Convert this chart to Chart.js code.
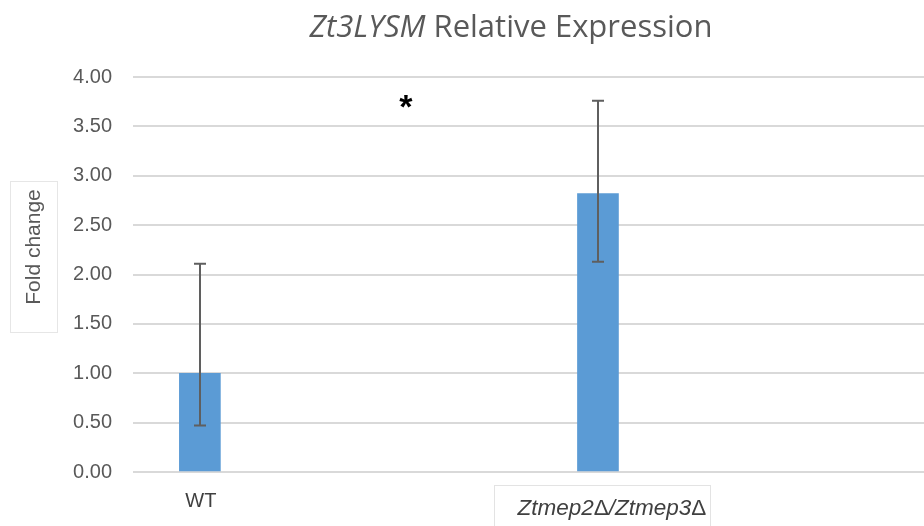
<!DOCTYPE html>
<html>
<head>
<meta charset="utf-8">
<script src="https://cdn.jsdelivr.net/npm/chart.js@4.4.1/dist/chart.umd.min.js"></script>
<style>
  html, body { margin: 0; padding: 0; background: #ffffff; }
  #wrap { width: 924px; height: 526px; position: relative; }
</style>
</head>
<body>
<div id="wrap"><canvas id="c" width="924" height="526"></canvas></div>
<script>
// Strains and their mean fold change
const categories = ['WT', 'Ztmep2\u0394/Ztmep3\u0394'];
const foldChange = [1.00, 2.82];
// Error bar extents (above / below the mean)
const errUpper = [1.11, 0.94];
const errLower = [0.53, 0.69];
// Significance marker
const sigMark = '*';
const sigPosition = { x: 0.515, y: 3.74 };

const chartTitle = ['Zt3LYSM', ' Relative Expression'];
const yAxisTitle = 'Fold change';

const TEXT = '#595959';

// Draw a label where gene names are italic and the deletion sign stays upright
function drawMixedLabel(ctx, text, cx, cy, size) {
  const italic = 'italic ' + size + 'px "Liberation Sans", Arial, sans-serif';
  const upright = size + 'px "Liberation Sans", Arial, sans-serif';
  const parts = text.split(/(\u0394)/).filter(p => p.length);
  const widths = parts.map(p => {
    ctx.font = p === '\u0394' ? upright : italic;
    return ctx.measureText(p).width;
  });
  let px = cx - widths.reduce((a, b) => a + b, 0) / 2;
  ctx.textAlign = 'left';
  parts.forEach((p, i) => {
    ctx.font = p === '\u0394' ? upright : italic;
    ctx.fillText(p, px, cy);
    px += widths[i];
  });
  ctx.textAlign = 'center';
}

const decorations = {
  id: 'decorations',
  afterDatasetsDraw(chart) {
    const { ctx, scales: { x, y } } = chart;
    ctx.save();
    // error bars
    ctx.strokeStyle = '#5f5f5f';
    ctx.lineWidth = 2;
    foldChange.forEach((v, i) => {
      const px = Math.round(x.getPixelForValue(i));
      const top = y.getPixelForValue(v + errUpper[i]);
      const bot = y.getPixelForValue(v - errLower[i]);
      ctx.beginPath();
      ctx.moveTo(px, top); ctx.lineTo(px, bot);
      ctx.moveTo(px - 6, top); ctx.lineTo(px + 6, top);
      ctx.moveTo(px - 6, bot); ctx.lineTo(px + 6, bot);
      ctx.stroke();
    });
    // significance asterisk
    ctx.fillStyle = '#000000';
    ctx.font = 'bold 34px "Liberation Sans", Arial, sans-serif';
    ctx.textAlign = 'center';
    ctx.textBaseline = 'middle';
    ctx.fillText(sigMark, x.getPixelForValue(sigPosition.x) + 1, y.getPixelForValue(sigPosition.y) + 6);

    // category labels
    ctx.fillStyle = '#404040';
    ctx.font = '20px "Liberation Sans", Arial, sans-serif';
    ctx.fillText(categories[0], x.getPixelForValue(0) + 1, 501);
    const mx = x.getPixelForValue(1);
    ctx.strokeStyle = '#e3e3e3';
    ctx.lineWidth = 1;
    ctx.strokeRect(Math.round(mx) - 103.5, 485.5, 216, 50);
    drawMixedLabel(ctx, categories[1], mx + 14, 509, 22.5);

    // y axis title in its box
    ctx.strokeStyle = '#e6e6e6';
    ctx.strokeRect(10.5, 181.5, 47, 151);
    ctx.translate(34, 247);
    ctx.rotate(-Math.PI / 2);
    ctx.fillStyle = TEXT;
    ctx.font = '21px "Liberation Sans", Arial, sans-serif';
    ctx.fillText(yAxisTitle, 0, 0);
    ctx.setTransform(1, 0, 0, 1, 0, 0);

    // chart title: italic gene name followed by regular text
    ctx.fillStyle = TEXT;
    ctx.textBaseline = 'alphabetic';
    ctx.textAlign = 'left';
    const fItalic = 'italic 31px "Open Sans", sans-serif';
    const fRegular = '31px "Open Sans", sans-serif';
    ctx.font = fItalic;
    const w1 = ctx.measureText(chartTitle[0]).width;
    ctx.font = fRegular;
    const w2 = ctx.measureText(chartTitle[1]).width;
    let tx = 511 - (w1 + w2) / 2;
    ctx.font = fItalic;
    ctx.fillText(chartTitle[0], tx, 37);
    ctx.font = fRegular;
    ctx.fillText(chartTitle[1], tx + w1, 37);
    ctx.restore();
  }
};

new Chart(document.getElementById('c'), {
  type: 'bar',
  data: {
    datasets: [{
      data: foldChange.map((v, i) => ({ x: i, y: v })),
      backgroundColor: '#5b9bd5',
      borderWidth: 0,
      barThickness: 41
    }]
  },
  options: {
    responsive: false,
    animation: false,
    events: [],
    layout: { padding: { top: 77, bottom: 54, left: 0, right: 0 } },
    plugins: { legend: { display: false }, tooltip: { enabled: false } },
    scales: {
      x: {
        type: 'linear',
        offset: false,
        min: -0.168,
        max: 1.819,
        display: false
      },
      y: {
        min: 0,
        max: 4,
        afterFit(scale) { scale.width = 133; },
        border: { display: false },
        grid: { color: '#d9d9d9', lineWidth: 2, drawTicks: false },
        ticks: {
          stepSize: 0.5,
          padding: 21,
          color: TEXT,
          font: { family: '"Liberation Sans", Arial, sans-serif', size: 20 },
          callback: v => v.toFixed(2)
        }
      }
    }
  },
  plugins: [decorations]
});
</script>
</body>
</html>
